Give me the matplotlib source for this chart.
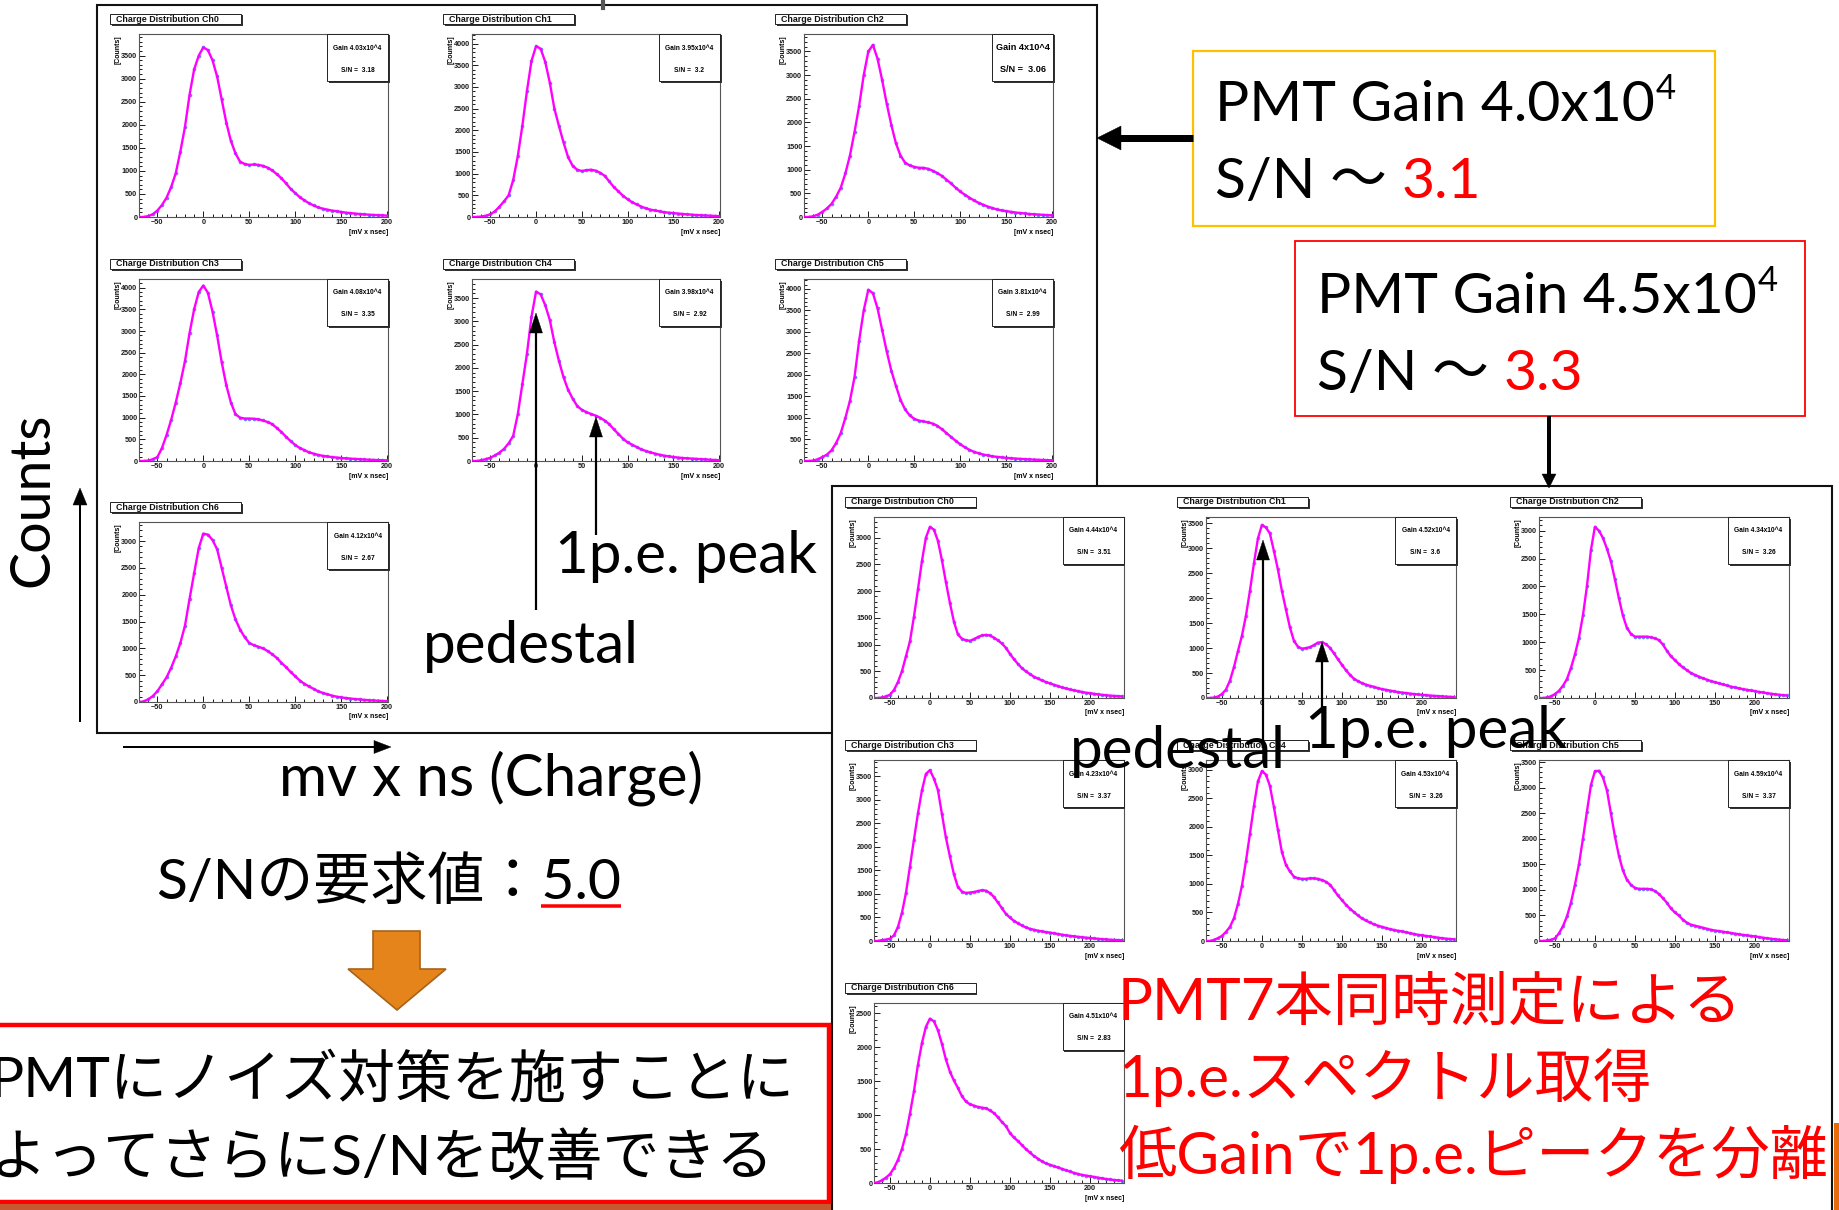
import numpy as np
import matplotlib
matplotlib.use("Agg")
import matplotlib.pyplot as plt
from matplotlib.patches import Rectangle, Polygon
from matplotlib.ticker import MultipleLocator

W, H = 1839, 1210
SLIDE_FONT = ["Lato", "Noto Sans CJK JP"]

# ROOT-style small bold labels for the histogram panels
plt.rcParams["font.family"] = ["Liberation Sans"]
plt.rcParams["font.weight"] = "bold"

# ---------------------------------------------------------------- data
# bin centres [mV x nsec]
charge_bins_40 = list(range(-70, 205, 5))   # gain 4.0e4 set
charge_bins_45 = list(range(-70, 245, 5))   # gain 4.5e4 set

# counts, PMT gain ~4.0e4
gain40_ch0 = [0, 0, 20, 60, 140, 260, 420, 650, 950, 1420, 1950, 2650, 3200, 3500,
              3680, 3620, 3400, 3050, 2550, 2050, 1650, 1380, 1200, 1150, 1130,
              1140, 1130, 1110, 1070, 1010, 930, 840, 730, 610, 520,
              430, 360, 300, 250, 210, 180, 160, 140, 125, 110,
              95, 85, 75, 65, 58, 50, 45, 40, 35, 30]
gain40_ch1 = [0, 0, 10, 30, 60, 130, 240, 360, 500, 850, 1400, 2100, 2900, 3600,
              3940, 3880, 3580, 3100, 2500, 2100, 1720, 1380, 1180, 1090, 1060,
              1080, 1090, 1070, 1020, 950, 820, 690, 590, 490, 410,
              340, 290, 240, 200, 170, 150, 130, 110, 100, 90,
              80, 70, 60, 55, 45, 40, 35, 30, 25, 20]
gain40_ch2 = [0, 0, 15, 50, 110, 180, 280, 430, 620, 920, 1300, 1800, 2350, 3000,
              3500, 3640, 3350, 2900, 2400, 1950, 1560, 1300, 1150, 1090, 1060,
              1040, 1040, 1020, 980, 930, 870, 790, 710, 620, 540,
              470, 410, 350, 300, 260, 220, 190, 160, 140, 125,
              110, 95, 85, 75, 65, 58, 52, 46, 40, 35]
gain40_ch3 = [0, 0, 10, 40, 90, 300, 600, 950, 1350, 1800, 2300, 2950, 3500, 3900,
              4050, 3880, 3450, 2900, 2280, 1750, 1350, 1080, 1000, 980, 980,
              975, 960, 935, 900, 850, 760, 670, 560, 460, 370,
              300, 250, 200, 170, 140, 120, 105, 90, 80, 70,
              62, 55, 48, 42, 36, 30, 26, 22, 18, 15]
gain40_ch4 = [0, 0, 15, 40, 70, 120, 180, 260, 380, 540, 1000, 1650, 2300, 3100,
              3640, 3580, 3350, 3030, 2550, 2150, 1800, 1530, 1340, 1180, 1100,
              1050, 1010, 975, 930, 870, 790, 680, 580, 480, 400,
              350, 300, 250, 215, 185, 160, 135, 115, 100, 85,
              75, 65, 58, 52, 46, 40, 34, 28, 22, 18]
gain40_ch5 = [0, 0, 10, 40, 90, 150, 250, 420, 650, 1000, 1400, 1950, 2800, 3500,
              3980, 3900, 3550, 3050, 2550, 2100, 1750, 1420, 1200, 1060, 980,
              940, 920, 900, 870, 820, 740, 650, 560, 470, 390,
              320, 260, 215, 180, 150, 130, 110, 95, 85, 75,
              65, 57, 50, 44, 38, 33, 28, 24, 20, 16]
gain40_ch6 = [0, 10, 50, 110, 200, 330, 460, 640, 850, 1100, 1420, 1920, 2400, 2870,
              3140, 3120, 3020, 2850, 2500, 2150, 1800, 1540, 1350, 1210, 1100,
              1060, 1030, 1000, 950, 890, 820, 730, 650, 560, 480,
              400, 340, 290, 245, 200, 170, 145, 120, 100, 85,
              75, 65, 55, 48, 40, 34, 28, 24, 20, 16]

# counts, PMT gain ~4.5e4
gain45_ch0 = [0, 0, 10, 30, 60, 150, 300, 500, 780, 1060, 1520, 2030, 2560, 3000,
              3200, 3150, 2940, 2580, 2170, 1780, 1430, 1190, 1110, 1080, 1070,
              1100, 1140, 1170, 1180, 1170, 1130, 1080, 1020, 940, 830,
              730, 640, 560, 500, 450, 400, 365, 330, 300, 275,
              250, 225, 200, 180, 160, 145, 130, 115, 100, 90,
              80, 70, 60, 52, 45, 40, 35, 30]
gain45_ch1 = [0, 0, 10, 30, 80, 170, 350, 620, 940, 1250, 1650, 2150, 2700, 3200,
              3470, 3420, 3300, 2950, 2580, 2150, 1780, 1420, 1150, 1030, 990,
              1000, 1020, 1060, 1110, 1120, 1080, 1010, 900, 780, 670,
              560, 470, 390, 340, 300, 270, 245, 225, 200, 180,
              165, 150, 135, 120, 110, 100, 90, 80, 72, 65,
              58, 50, 44, 38, 33, 28, 24, 20]
gain45_ch2 = [0, 0, 10, 30, 70, 130, 220, 340, 540, 780, 1080, 1480, 2000, 2650,
              3070, 3000, 2870, 2680, 2450, 2130, 1790, 1480, 1260, 1150, 1100,
              1100, 1100, 1100, 1090, 1070, 1040, 960, 850, 750, 680,
              610, 550, 500, 450, 415, 385, 355, 330, 305, 285,
              265, 245, 225, 205, 190, 175, 160, 148, 135, 125,
              110, 100, 88, 78, 68, 60, 52, 45]
gain45_ch3 = [0, 0, 20, 30, 50, 120, 300, 600, 1020, 1580, 2150, 2710, 3200, 3550,
              3630, 3450, 3210, 2700, 2200, 1800, 1420, 1150, 1050, 1020, 1030,
              1040, 1060, 1080, 1070, 1020, 940, 820, 700, 580, 500,
              430, 380, 330, 290, 260, 240, 220, 205, 190, 180,
              165, 150, 135, 122, 110, 100, 90, 80, 72, 65,
              55, 48, 40, 34, 28, 24, 20, 16]
gain45_ch4 = [0, 0, 20, 50, 90, 160, 250, 400, 650, 970, 1400, 1880, 2370, 2800,
              2980, 2920, 2720, 2350, 1950, 1560, 1340, 1220, 1130, 1100, 1090,
              1090, 1100, 1100, 1090, 1070, 1040, 990, 900, 800, 720,
              640, 570, 510, 450, 400, 360, 325, 295, 270, 250,
              230, 210, 195, 180, 170, 155, 140, 125, 110, 100,
              90, 80, 70, 60, 50, 42, 36, 30]
gain45_ch5 = [0, 0, 10, 25, 50, 150, 290, 480, 750, 1100, 1500, 2000, 2530, 3050,
              3320, 3330, 3200, 2950, 2500, 2050, 1670, 1380, 1200, 1100, 1040,
              1020, 1020, 1020, 1010, 980, 920, 840, 750, 640, 560,
              500, 420, 360, 320, 300, 280, 260, 240, 220, 205,
              195, 182, 170, 158, 145, 132, 120, 110, 100, 90,
              78, 66, 55, 45, 35, 27, 20, 15]
gain45_ch6 = [0, 10, 40, 80, 130, 220, 340, 500, 720, 1020, 1350, 1740, 2060, 2300,
              2420, 2380, 2250, 2050, 1820, 1640, 1510, 1400, 1280, 1200, 1160,
              1140, 1120, 1110, 1100, 1070, 1030, 970, 900, 840, 740,
              670, 620, 560, 500, 450, 400, 360, 320, 290, 270,
              250, 230, 210, 190, 170, 150, 135, 120, 110, 100,
              90, 80, 70, 60, 52, 45, 40, 35]

gain40_gain = ["4.03x10^4", "3.95x10^4", "4x10^4", "4.08x10^4",
               "3.98x10^4", "3.81x10^4", "4.12x10^4"]
gain40_sn = ["3.18", "3.2", "3.06", "3.35", "2.92", "2.99", "2.67"]
gain45_gain = ["4.44x10^4", "4.52x10^4", "4.34x10^4", "4.23x10^4",
               "4.53x10^4", "4.59x10^4", "4.51x10^4"]
gain45_sn = ["3.51", "3.6", "3.26", "3.37", "3.26", "3.37", "2.83"]

gain40_ymax = [3970, 4220, 3870, 4200, 3910, 4230, 3356]
gain45_ymax = [3385, 3630, 3245, 3845, 3175, 3540, 2650]

gain40_counts = [gain40_ch0, gain40_ch1, gain40_ch2, gain40_ch3,
                 gain40_ch4, gain40_ch5, gain40_ch6]
gain45_counts = [gain45_ch0, gain45_ch1, gain45_ch2, gain45_ch3,
                 gain45_ch4, gain45_ch5, gain45_ch6]

# ---------------------------------------------------------------- figure
fig = plt.figure(figsize=(W / 100, H / 100), dpi=100)
fig.patch.set_facecolor("white")


def overlay(z):
    ax = fig.add_axes([0, 0, 1, 1], zorder=z)
    ax.set_xlim(0, W)
    ax.set_ylim(H, 0)
    ax.axis("off")
    ax.patch.set_visible(False)
    return ax


def px(v):
    """pixel length -> points"""
    return v * 72.0 / 100.0


def arrow(ax, x0, y0, x1, y1, width, head_len, head_w, color="black", z=5):
    d = np.hypot(x1 - x0, y1 - y0)
    ux, uy = (x1 - x0) / d, (y1 - y0) / d
    bx, by = x1 - ux * head_len, y1 - uy * head_len
    ax.plot([x0, bx + ux * 1.0], [y0, by + uy * 1.0], color=color, lw=px(width),
            solid_capstyle="butt", zorder=z)
    nx, ny = -uy, ux
    tri = [(x1, y1), (bx + nx * head_w / 2, by + ny * head_w / 2),
           (bx - nx * head_w / 2, by - ny * head_w / 2)]
    ax.add_patch(Polygon(tri, closed=True, fc=color, ec=color, lw=0.3, zorder=z))


def charge_hist(x0, x1, y0, y1, z, bins, counts, xmax, ymax, ch, gain, sn, stat_fs):
    aw, ah = x1 - x0, y1 - y0
    ax = fig.add_axes([x0 / W, 1 - y1 / H, aw / W, ah / H], zorder=z)

    def box(dx0, dy0, dx1, dy1, **kw):
        return Rectangle((dx0 / aw, 1 - dy1 / ah), (dx1 - dx0) / aw, (dy1 - dy0) / ah,
                         transform=ax.transAxes, clip_on=False, **kw)

    def pos(dx, dy):
        return dx / aw, 1 - dy / ah

    ax.plot(bins, counts, "o", color="#4f6dff", ms=2.6, mew=0, alpha=0.85, zorder=2)
    ax.plot(bins, counts, "-", color="#ff00ff", lw=1.7, zorder=3)
    ax.set_xlim(-70, xmax)
    ax.set_ylim(0, ymax)
    ax.xaxis.set_major_locator(MultipleLocator(50))
    ax.xaxis.set_minor_locator(MultipleLocator(10))
    ax.yaxis.set_major_locator(MultipleLocator(500))
    ax.yaxis.set_minor_locator(MultipleLocator(100))
    ax.tick_params(which="both", direction="in", top=False, right=False,
                   colors="#1a1a1a", labelsize=5.2, pad=1.2, width=0.7)
    ax.tick_params(which="major", length=4)
    ax.tick_params(which="minor", length=2)
    for sp in ax.spines.values():
        sp.set_linewidth(0.8)
        sp.set_color("#555555")

    # histogram title with ROOT shadow
    ax.add_patch(box(-27.5, -18.5, 103.5, -8.5, fc="#333333", ec="none", zorder=4))
    ax.add_patch(box(-29, -20, 102, -10, fc="white", ec="#222222", lw=0.7, zorder=5))
    ax.text(*pos(-23, -15), f"Charge Distribution Ch{ch}", transform=ax.transAxes,
            fontsize=6.4, ha="left", va="center", color="#111111", zorder=6,
            clip_on=False)

    # statistics box
    ax.add_patch(box(aw - 59.5, 1.5, aw + 1.5, 48.5, fc="#333333", ec="none", zorder=4))
    ax.add_patch(box(aw - 61, 0, aw, 47, fc="white", ec="#222222", lw=0.7, zorder=5))
    ax.text(*pos(aw - 30.5, 14), f"Gain {gain}", transform=ax.transAxes,
            fontsize=stat_fs, ha="center", va="center", zorder=6)
    ax.text(*pos(aw - 30.5, 36), f"S/N =  {sn}", transform=ax.transAxes,
            fontsize=stat_fs, ha="center", va="center", zorder=6)

    ax.text(*pos(-21, 1), "[Counts]", transform=ax.transAxes, rotation=90,
            fontsize=5.0, ha="center", va="top", clip_on=False, zorder=6)
    ax.text(*pos(aw, ah + 15), "[mV x nsec]", transform=ax.transAxes,
            fontsize=5.0, ha="right", va="center", clip_on=False, zorder=6)
    return ax


# panel frames ---------------------------------------------------------
back = overlay(0)
back.add_patch(Rectangle((97, 5), 1000, 728, fc="white", ec="#111111", lw=1.5))
back.plot([603, 603], [0, 8], color="#555555", lw=3)

top_cols = [(139, 388), (472, 720), (804, 1053)]
top_rows = [(34, 217), (279, 461), (522, 702)]
for i, counts in enumerate(gain40_counts):
    cx, ry = top_cols[i % 3], top_rows[i // 3]
    fs = 6.6 if i == 2 else 4.8
    charge_hist(cx[0], cx[1], ry[0], ry[1], 1, charge_bins_40, counts, 201,
                gain40_ymax[i], i, gain40_gain[i], gain40_sn[i], fs)

mid = overlay(3)
mid.add_patch(Rectangle((832, 486), 1000, 740, fc="white", ec="#111111", lw=1.5))

bot_cols = [(874, 1124), (1206, 1456), (1539, 1789)]
bot_rows = [(517, 698), (760, 941), (1003, 1183)]
for i, counts in enumerate(gain45_counts):
    cx, ry = bot_cols[i % 3], bot_rows[i // 3]
    charge_hist(cx[0], cx[1], ry[0], ry[1], 4, charge_bins_45, counts, 243,
                gain45_ymax[i], i, gain45_gain[i], gain45_sn[i], 4.8)

# annotations ----------------------------------------------------------
front = overlay(6)
renderer = fig.canvas.get_renderer()


def say(x, y, s, fs, color="black", **kw):
    return front.text(x, y, s, fontsize=fs, color=color, family=SLIDE_FONT,
                      weight="normal", va="baseline", ha=kw.pop("ha", "left"), **kw)


def width_of(s, fs):
    t = say(0, 0, s, fs)
    w = t.get_window_extent(renderer=renderer).width
    t.remove()
    return w


# axes hints for the histograms
arrow(front, 80, 722, 80, 488, 2, 17, 14)
arrow(front, 123, 747, 391, 747, 2, 17, 13)
front.text(33, 500, "Counts", rotation=90, fontsize=40, family=SLIDE_FONT,
           weight="normal", ha="center", va="center")
say(279, 795, "mv x ns (Charge)", 42)

# pedestal and single photo-electron peak markers
arrow(front, 536, 610, 536, 313, 2.2, 20, 13)
arrow(front, 596, 535, 596, 417, 2.2, 20, 13)
say(555, 573, "1p.e. peak", 42)
say(423, 663, "pedestal", 42)

arrow(front, 1263, 745, 1263, 540, 2.2, 20, 13)
arrow(front, 1322, 707, 1322, 642, 2.2, 20, 13)
say(1305, 748, "1p.e. peak", 42)
say(1070, 768, "pedestal", 42)

# gain summary boxes
front.add_patch(Rectangle((1193, 51), 522, 175, fc="white", ec="#FFC000", lw=1.6))
front.add_patch(Rectangle((1295, 241), 510, 175, fc="white", ec="#FF0000", lw=1.3))
arrow(front, 1193, 138, 1097, 138, 7, 24, 24)
arrow(front, 1549, 416, 1549, 488, 4, 14, 14)

for (bx, by, gtxt, sntxt) in [(1215, 121, "PMT Gain 4.0x10", "3.1"),
                              (1317, 313, "PMT Gain 4.5x10", "3.3")]:
    say(bx, by, gtxt, 41)
    gw = width_of(gtxt, 41)
    say(bx + gw + 1, by - 22, "4", 25)
    full = width_of("S/N ～ " + sntxt, 41)
    say(bx, by + 77, "S/N ～", 41)
    say(bx + full, by + 77, sntxt, 41, color="#FF0000", ha="right")

# requirement and conclusion
req = "S/Nの要求値：5.0"
say(156, 899, req, 41)
rw, vw = width_of(req, 41), width_of("5.0", 41)
front.plot([156 + rw - vw, 156 + rw], [906, 906], color="#FF0000", lw=px(3.5),
           solid_capstyle="butt")

front.add_patch(Polygon([(373, 931), (420, 931), (420, 969), (446, 969), (397, 1010),
                         (348, 969), (373, 969)], closed=True, fc="#E5841B",
                        ec="#A8621A", lw=1.2))

front.add_patch(Rectangle((-12, 1025), 841, 177, fc="white", ec="#FF0000", lw=3.2))
front.add_patch(Rectangle((0, 1204), 831, 8, fc="#C55A32", ec="none"))
front.add_patch(Rectangle((1834, 1123), 6, 90, fc="#E46C0A", ec="none"))
say(-10, 1097, "PMTにノイズ対策を施すことに", 41)
say(-10, 1175, "よってさらにS/Nを改善できる", 41)

say(1118, 1020, "PMT7本同時測定による", 42, color="#FF0000")
say(1118, 1097, "1p.e.スペクトル取得", 42, color="#FF0000")
say(1118, 1174, "低Gainで1p.e.ピークを分離", 42, color="#FF0000")

fig.savefig("out.png", dpi=100, facecolor="white")
